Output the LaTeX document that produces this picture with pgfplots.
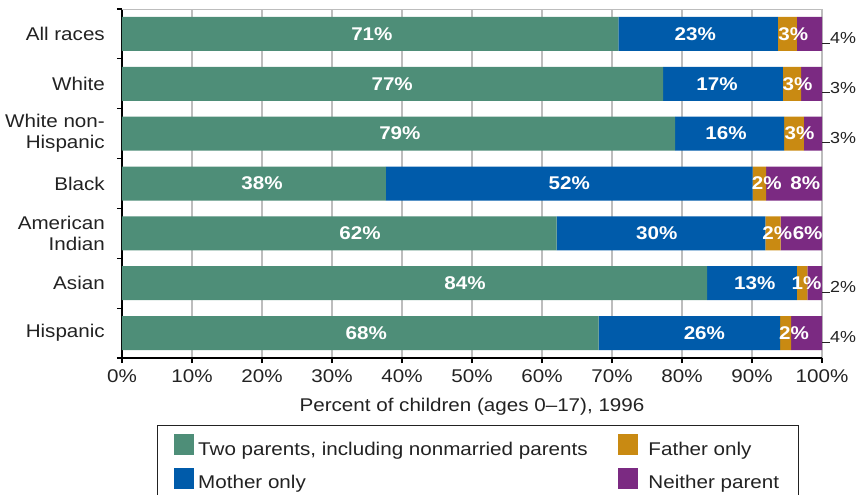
\documentclass[border=0pt]{standalone}
\usepackage{pgfplots}
\pgfplotsset{compat=1.18}
\usepackage{pgfplotstable}
\usepackage{fontspec}
\setmainfont{Liberation Sans}[FakeStretch=1.12]
\definecolor{cgreen}{HTML}{4E8E78}
\definecolor{cblue}{HTML}{005BAA}
\definecolor{corange}{HTML}{C98A12}
\definecolor{cpurple}{HTML}{7B2A82}
\definecolor{cgrid}{HTML}{BDBDBD}
\definecolor{ctext}{HTML}{222222}

\pgfplotstableread{
y g b o p
6 70.9 22.8 2.7 3.6
5 77.3 17.1 2.6 3.0
4 79.0 15.6 2.8 2.6
3 37.7 52.4 1.9 8.0
2 62.1 29.8 2.2 5.9
1 83.6 12.8 1.5 2.1
0 68.1 25.9 1.6 4.4
}\shares

\pgfplotstableread{
x y lab
35.7 6 71
38.6 5 77
39.7 4 79
20.0 3 38
34.0 2 62
49.0 1 84
34.9 0 68
81.9 6 23
85.0 5 17
86.3 4 16
63.9 3 52
76.4 2 30
90.4 1 13
83.2 0 26
95.9 6 3
96.5 5 3
96.8 4 3
92.1 3 2
93.6 2 2
97.8 1 1
96.0 0 2
97.6 3 8
97.95 2 6
}\inlabels

\pgfplotstableread{
x y lab
100 6 4
100 5 3
100 4 3
100 1 2
100 0 4
}\outlabels

\pgfplotsset{base/.style={scale only axis, width=700pt, height=349pt,
  xmin=0, xmax=100, ymin=-0.5, ymax=6.5, at={(0pt,0pt)}, anchor=south west}}

\begin{document}
\fontsize{18.4}{21}\selectfont
\begin{tikzpicture}
\useasboundingbox (-122pt,-137pt) rectangle (735pt,358pt);
\begin{axis}[base,
  xbar stacked, bar width=34pt,
  axis x line*=bottom, axis y line*=left,
  axis line style={black, line width=1.6pt, -},
  tick align=outside,
  xtick={0,10,...,100},
  xticklabels={0\%,10\%,20\%,30\%,40\%,50\%,60\%,70\%,80\%,90\%,100\%},
  major tick length=5pt, minor tick length=5pt,
  major x tick style={black, line width=1.2pt},
  xmajorgrids, grid style={cgrid, line width=1.6pt},
  xticklabel style={text=ctext, inner sep=0pt, anchor=north, yshift=-6pt},
  ytick={0,...,6},
  yticklabels={Hispanic, Asian, {American\\Indian}, Black, {White non-\\Hispanic}, White, All races},
  major y tick style={draw=none},
  minor ytick={-0.5,0.5,...,6.5},
  minor y tick style={black, line width=1.2pt},
  yticklabel style={text=ctext, align=right, inner sep=0pt, anchor=east, xshift=-12pt, font=\fontsize{18.4}{21}\selectfont},
  xlabel={Percent of children (ages 0--17), 1996},
  xlabel style={text=ctext, at={(axis description cs:0.5,0)}, anchor=base, yshift=-53pt},
  legend columns=2,
  legend cell align=left,
  legend style={at={(0.05,-0.192)}, anchor=north west, draw=ctext, line width=0.8pt,
    inner xsep=17pt, inner ysep=9pt, text=ctext,
    nodes={inner sep=2pt},
    /tikz/column sep=0pt,
    /tikz/column 1/.append style={column sep=2pt},
    /tikz/column 2/.append style={column sep=28pt},
    /tikz/column 3/.append style={column sep=9pt},
    row sep=8pt},
]
\addplot[fill=cgreen, draw=none, forget plot] table[x=g, y=y] \shares;
\addplot[fill=cblue, draw=none, forget plot] table[x=b, y=y] \shares;
\addplot[fill=corange, draw=none, forget plot] table[x=o, y=y] \shares;
\addplot[fill=cpurple, draw=none, forget plot] table[x=p, y=y] \shares;
\draw[cgrid, line width=1.6pt] (rel axis cs:0,1) -- (rel axis cs:1,1);
\draw[black, line width=1.6pt] (rel axis cs:0,0) -- (rel axis cs:0,1);
\addlegendimage{legend image code/.code={\fill[cgreen] (0pt,-5pt) rectangle (19pt,15pt);}}
\addlegendentry{Two parents, including nonmarried parents}
\addlegendimage{legend image code/.code={\fill[corange] (0pt,-5pt) rectangle (19pt,15pt);}}
\addlegendentry{Father only}
\addlegendimage{legend image code/.code={\fill[cblue] (0pt,-5pt) rectangle (19pt,15pt);\path (0pt,-16pt);}}
\addlegendentry{Mother only}
\addlegendimage{legend image code/.code={\fill[cpurple] (0pt,-5pt) rectangle (19pt,15pt);\path (0pt,-16pt);}}
\addlegendentry{Neither parent}
\end{axis}
\begin{axis}[base, hide axis, clip=false]
\addplot[only marks, mark=none, point meta=explicit symbolic,
  nodes near coords={\pgfplotspointmeta\%},
  every node near coord/.append style={anchor=center, inner sep=0pt, text=white, font=\bfseries}]
  table[x=x, y=y, meta=lab] \inlabels;
\addplot[only marks, mark=none, point meta=explicit symbolic,
  nodes near coords={\rule{8pt}{0.9pt}\pgfplotspointmeta\%},
  every node near coord/.append style={anchor=base west, inner sep=0pt, yshift=-9.5pt, text=ctext, font=\fontsize{16}{19}\selectfont}]
  table[x=x, y=y, meta=lab] \outlabels;
\end{axis}
\end{tikzpicture}
\end{document}
